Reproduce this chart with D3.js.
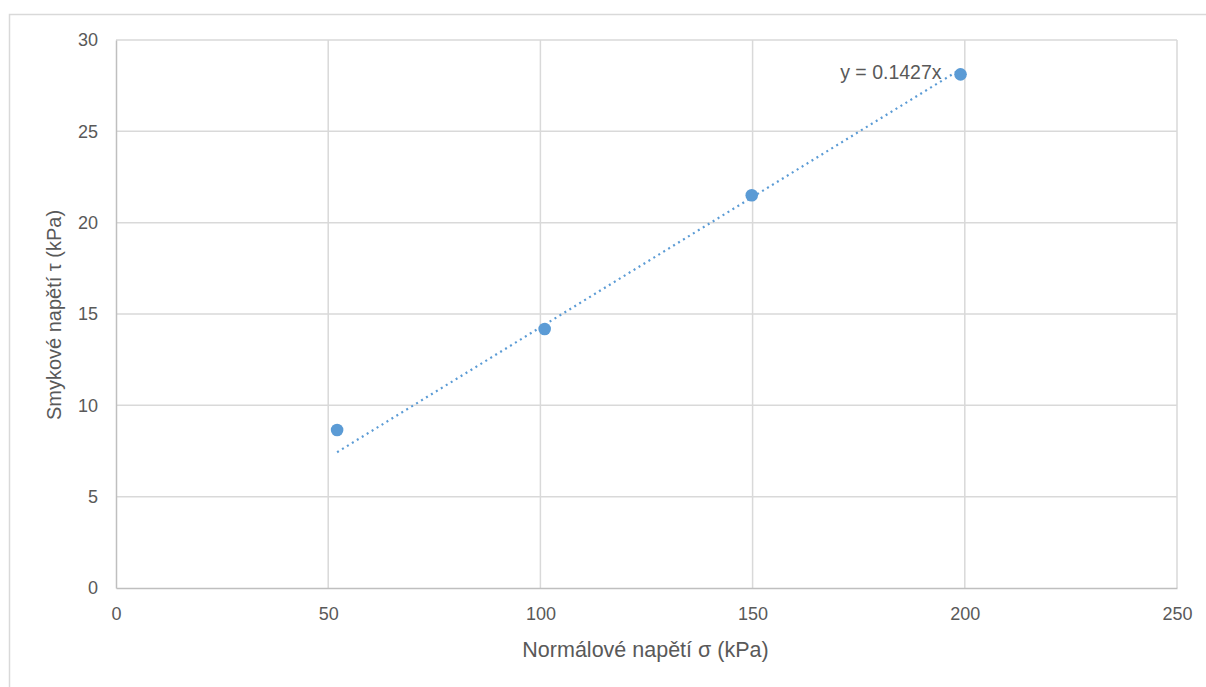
<!DOCTYPE html>
<html><head><meta charset="utf-8">
<script src="https://cdn.jsdelivr.net/npm/d3@7"></script>
<style>
html,body{margin:0;padding:0;background:#fff;}
svg text{font-family:"Liberation Sans",Arial,sans-serif;fill:#595959;}
</style></head>
<body>
<svg id="chart" width="1206" height="687"></svg>
<script>
const sigma = [52.1, 101.0, 149.8, 199.0];
const tau = [8.65, 14.18, 21.5, 28.12];
const slope = 0.1427;
const xTicks = [0, 50, 100, 150, 200, 250];
const yTicks = [0, 5, 10, 15, 20, 25, 30];
const xTitle = "Normálové napětí σ (kPa)";
const yTitle = "Smykové napětí τ (kPa)";
const eqLabel = "y = 0.1427x";

const svg = d3.select("#chart");
const W = 1206, H = 687;
const m = {left:116, top:40, right:1177, bottom:588};

// outer chart frame
svg.append("rect").attr("x",9.5).attr("y",14.5).attr("width",W).attr("height",H)
  .attr("fill","#fff").attr("stroke","#d9d9d9").attr("stroke-width",1.5);

const x = d3.scaleLinear().domain([0,250]).range([m.left,m.right]);
const y = d3.scaleLinear().domain([0,30]).range([m.bottom,m.top]);

// gridlines
svg.append("g").selectAll("line").data(yTicks.filter(d=>d>0)).join("line")
  .attr("x1",m.left).attr("x2",m.right).attr("y1",d=>y(d)).attr("y2",d=>y(d))
  .attr("stroke","#d9d9d9").attr("stroke-width",1.5);
svg.append("g").selectAll("line").data(xTicks.filter(d=>d>0)).join("line")
  .attr("y1",m.top).attr("y2",m.bottom).attr("x1",d=>x(d)).attr("x2",d=>x(d))
  .attr("stroke","#d9d9d9").attr("stroke-width",1.5);

// axes
const xAxis = svg.append("g").attr("transform",`translate(0,${m.bottom})`)
  .call(d3.axisBottom(x).tickValues(xTicks).tickSize(0).tickPadding(19));
xAxis.select(".domain").attr("stroke","#bfbfbf").attr("stroke-width",1.5);
xAxis.selectAll("text").style("font-size","18px").attr("fill","#595959");

const yAxis = svg.append("g").attr("transform",`translate(${m.left},0)`)
  .call(d3.axisLeft(y).tickValues(yTicks).tickSize(0).tickPadding(18));
yAxis.select(".domain").attr("stroke","#bfbfbf").attr("stroke-width",1.5);
yAxis.selectAll("text").style("font-size","18px").attr("fill","#595959");

// trendline
const xs = d3.extent(sigma);
svg.append("line")
  .attr("x1",x(xs[0])).attr("y1",y(slope*xs[0]))
  .attr("x2",x(xs[1])).attr("y2",y(slope*xs[1]))
  .attr("stroke","#5b9bd5").attr("stroke-width",2.2)
  .attr("stroke-dasharray","2 3.8");

// points
svg.append("g").selectAll("circle").data(sigma.map((s,i)=>[s,tau[i]])).join("circle")
  .attr("cx",d=>x(d[0])).attr("cy",d=>y(d[1])).attr("r",6.3)
  .attr("fill","#5b9bd5");

// equation label
svg.append("text").attr("x",x(xs[1])-19).attr("y",y(tau[3])+4.5)
  .attr("text-anchor","end").style("font-size","19.5px").text(eqLabel);

// titles
svg.append("text").attr("x",(m.left+m.right)/2 - 1).attr("y",657)
  .attr("text-anchor","middle").style("font-size","21.5px").text(xTitle);
svg.append("text").attr("transform",`translate(61,${(m.top+m.bottom)/2+1}) rotate(-90)`)
  .attr("text-anchor","middle").style("font-size","20px").text(yTitle);
</script>
</body></html>
